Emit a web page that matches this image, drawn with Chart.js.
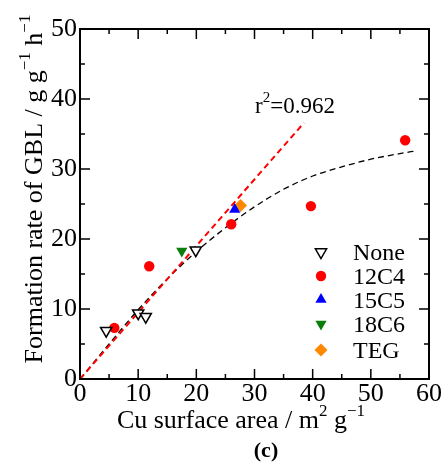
<!DOCTYPE html>
<html>
<head>
<meta charset="utf-8">
<script src="https://cdn.jsdelivr.net/npm/chart.js@4"></script>
<style>
  html, body { margin: 0; padding: 0; background: #fff; font-family: "Liberation Serif", serif; }
  #wrap { width: 445px; height: 463px; }
</style>
</head>
<body>
<div id="wrap"><canvas id="c" width="445" height="463"></canvas></div>
<script>
// datos
const noneX = [4.5, 10.0, 11.3, 19.9];
const noneY = [6.9, 9.4, 8.9, 18.4];
const c12X = [5.9, 11.9, 26.0, 39.7, 55.9];
const c12Y = [7.3, 16.1, 22.1, 24.7, 34.1];
const c15X = [26.6];
const c15Y = [24.2];
const c18X = [17.5];
const c18Y = [18.3];
const tegX = [27.6];
const tegY = [24.8];

// recta de ajuste (r2) y curva punteada negra
const fitX = [0, 38.5];
const fitY = [0, 36.6];
const curveX = [0, 5, 10, 15, 20, 25, 30, 35, 40, 45, 50, 55, 57.8];
const curveY = [0, 5.0, 9.9, 14.3, 18.2, 21.6, 24.6, 27.1, 29.0, 30.3, 31.4, 32.2, 32.6];

const xTicks = [0, 10, 20, 30, 40, 50, 60];
const yTicks = [0, 10, 20, 30, 40, 50];

const legendNames = ['None', '12C4', '15C5', '18C6', 'TEG'];

const FONT = '"Liberation Serif", "Times New Roman", Times, serif';
Chart.defaults.font.family = FONT;
Chart.defaults.color = '#000';

const pts = (xs, ys) => xs.map((x, i) => ({ x: x, y: ys[i] }));

const datasets = [
  {
    label: legendNames[0], data: pts(noneX, noneY),
    pointStyle: 'triangle', rotation: 180, pointRadius: 6.5,
    backgroundColor: '#ffffff', borderColor: '#000000', borderWidth: 1.5, order: 1
  },
  {
    label: legendNames[1], data: pts(c12X, c12Y),
    pointStyle: 'circle', pointRadius: 5.2,
    backgroundColor: '#ff0000', borderColor: '#ff0000', borderWidth: 0, order: 1
  },
  {
    label: legendNames[2], data: pts(c15X, c15Y),
    pointStyle: 'triangle', pointRadius: 6.5,
    backgroundColor: '#0000ff', borderColor: '#0000ff', borderWidth: 0, order: 1
  },
  {
    label: legendNames[3], data: pts(c18X, c18Y),
    pointStyle: 'triangle', rotation: 180, pointRadius: 6.5,
    backgroundColor: '#0a7d0a', borderColor: '#0a7d0a', borderWidth: 0, order: 1
  },
  {
    label: legendNames[4], data: pts(tegX, tegY),
    pointStyle: 'rectRot', pointRadius: 6.5,
    backgroundColor: '#ff8800', borderColor: '#ff8800', borderWidth: 0, order: 1
  },
  {
    type: 'line', label: 'fit', data: pts(fitX, fitY),
    borderColor: '#ff0000', borderWidth: 2, borderDash: [6, 4],
    pointRadius: 0, fill: false, order: 2
  },
  {
    type: 'line', label: 'curve', data: pts(curveX, curveY),
    borderColor: '#000000', borderWidth: 1.3, borderDash: [6, 4],
    pointRadius: 0, fill: false, cubicInterpolationMode: 'monotone', order: 3
  }
];

// texto con superindices: partes [texto, esSup]
function drawRich(ctx, parts, x, y, size, supSize, align) {
  let total = 0;
  parts.forEach(p => {
    ctx.font = (p[1] ? supSize : size) + 'px ' + FONT;
    total += ctx.measureText(p[0]).width;
  });
  let cx = align === 'center' ? x - total / 2 : x;
  parts.forEach(p => {
    ctx.font = (p[1] ? supSize : size) + 'px ' + FONT;
    ctx.fillText(p[0], cx, p[1] ? y - size * 0.48 : y);
    cx += ctx.measureText(p[0]).width;
  });
}

const decor = {
  id: 'decor',
  afterDatasetsDraw(chart) {
    const ctx = chart.ctx;
    const a = chart.chartArea;
    const xs = chart.scales.x, ys = chart.scales.y;
    ctx.save();
    ctx.strokeStyle = '#000';
    // marcas interiores en los cuatro lados
    ctx.lineWidth = 1.5;
    for (let v = 0; v <= 60; v += 5) {
      const px = xs.getPixelForValue(v);
      const len = v % 10 === 0 ? 10 : 5;
      ctx.beginPath();
      ctx.moveTo(px, a.bottom); ctx.lineTo(px, a.bottom - len);
      ctx.moveTo(px, a.top); ctx.lineTo(px, a.top + len);
      ctx.stroke();
    }
    for (let v = 0; v <= 50; v += 5) {
      const py = ys.getPixelForValue(v);
      const len = v % 10 === 0 ? 10 : 5;
      ctx.beginPath();
      ctx.moveTo(a.left, py); ctx.lineTo(a.left + len, py);
      ctx.moveTo(a.right, py); ctx.lineTo(a.right - len, py);
      ctx.stroke();
    }
    // marco
    ctx.lineWidth = 2;
    ctx.strokeRect(a.left, a.top, a.right - a.left, a.bottom - a.top);

    ctx.fillStyle = '#000';
    ctx.textBaseline = 'alphabetic';
    ctx.textAlign = 'left';

    // leyenda dentro del grafico
    const lx = 321, ly = [252, 276, 299.5, 324, 350];
    datasets.slice(0, 5).forEach((ds, i) => {
      ctx.fillStyle = ds.backgroundColor;
      ctx.strokeStyle = ds.borderColor;
      ctx.lineWidth = ds.borderWidth;
      Chart.helpers.drawPoint(ctx, {
        pointStyle: ds.pointStyle, rotation: ds.rotation || 0,
        radius: ds.pointRadius, borderWidth: ds.borderWidth
      }, lx, ly[i]);
      ctx.fillStyle = '#000';
      ctx.font = '24px ' + FONT;
      ctx.fillText(ds.label, 353, ly[i] + 8);
    });

    // etiqueta r2
    ctx.fillStyle = '#000';
    drawRich(ctx, [['r', false], ['2', true], ['=0.962', false]], 255, 113, 23, 15, 'left');

    // titulo eje x
    drawRich(ctx, [['Cu surface area / m', false], ['2', true], [' g', false], ['\u22121', true]],
      241, 428, 26, 17, 'center');

    // titulo eje y (rotado)
    ctx.save();
    ctx.translate(42, 189);
    ctx.rotate(-Math.PI / 2);
    drawRich(ctx, [['Formation rate of GBL / g g', false], ['\u22121', true], [' h', false], ['\u22121', true]],
      0, 0, 26, 17, 'center');
    ctx.restore();

    // (c)
    ctx.font = 'bold 22px ' + FONT;
    ctx.textAlign = 'center';
    ctx.fillText('(c)', 266, 457);
    ctx.restore();
  }
};

const chart = new Chart(document.getElementById('c'), {
  type: 'scatter',
  data: { datasets: datasets },
  options: {
    responsive: false,
    animation: false,
    layout: { padding: { top: 29, right: 16, left: 0, bottom: 0 } },
    plugins: { legend: { display: false }, tooltip: { enabled: false } },
    scales: {
      x: {
        type: 'linear', min: 0, max: 60,
        afterFit: s => { s.height = 84; },
        afterBuildTicks: s => { s.ticks = xTicks.map(v => ({ value: v })); },
        grid: { display: false, drawTicks: false },
        border: { display: false },
        ticks: { color: '#000', padding: 0, maxRotation: 0, font: { size: 26 } }
      },
      y: {
        type: 'linear', min: 0, max: 50,
        afterFit: s => { s.width = 80; },
        afterBuildTicks: s => { s.ticks = yTicks.map(v => ({ value: v })); },
        grid: { display: false, drawTicks: false },
        border: { display: false },
        ticks: { color: '#000', padding: 3, font: { size: 26 } }
      }
    }
  },
  plugins: [decor]
});

// volver a dibujar cuando la fuente esté lista
if (document.fonts) {
  Promise.all([
    document.fonts.load('24px "Liberation Serif"', '0123456789NoneTEG'),
    document.fonts.load('bold 22px "Liberation Serif"', '(c)')
  ]).then(() => chart.update());
}
</script>
</body>
</html>
